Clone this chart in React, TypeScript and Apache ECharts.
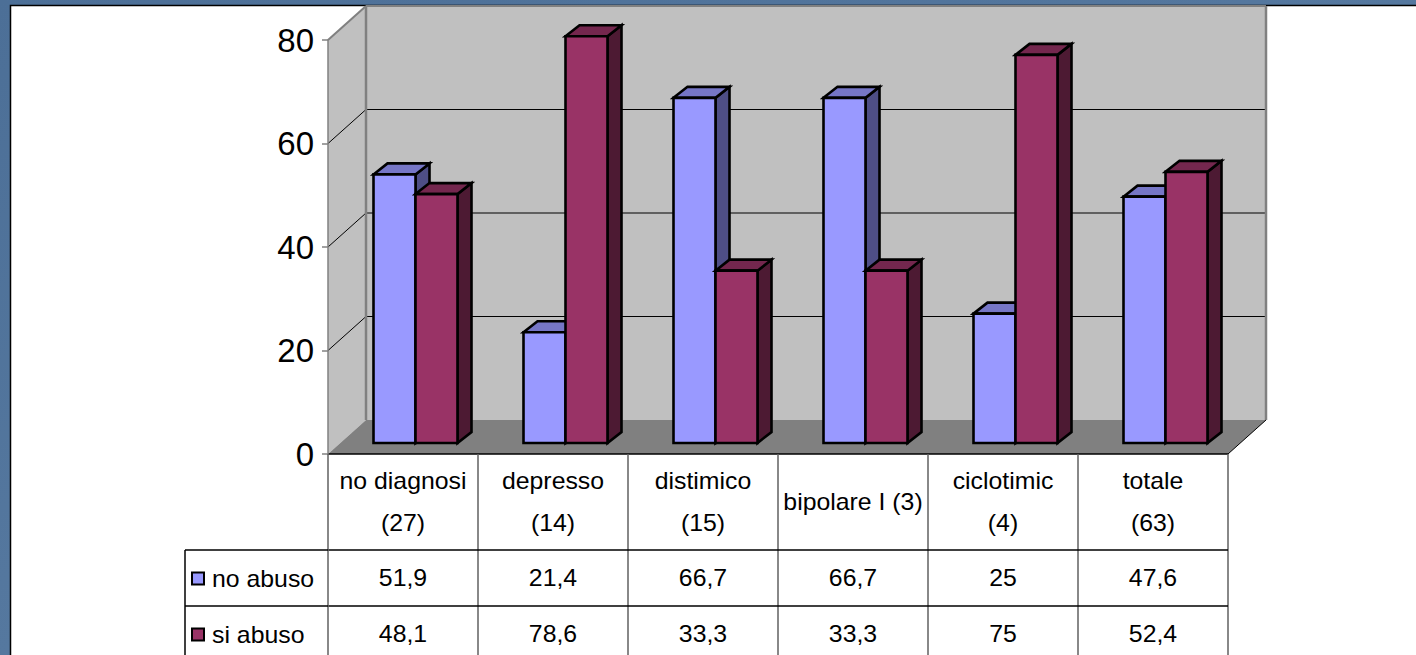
import React, { useEffect, useRef } from "react";
import * as echarts from "echarts";

// Categories (diagnosis, sample size) and the two percentage series
const categories = [
  "no diagnosi\n(27)",
  "depresso\n(14)",
  "distimico\n(15)",
  "bipolare I (3)",
  "ciclotimic\n(4)",
  "totale\n(63)",
];
const seriesNames = ["no abuso", "si abuso"];
const noAbuso = [51.9, 21.4, 66.7, 66.7, 25, 47.6];
const siAbuso = [48.1, 78.6, 33.3, 33.3, 75, 52.4];
const yTicks = [0, 20, 40, 60, 80];

// Styling / layout
const FONT = "'Liberation Sans', Arial, sans-serif";
const GRID = { left: 328, top: 40, width: 900, height: 414 };
const WALL_DX = 38;
const WALL_DY = -34;
const BAR_SHIFT_X = 12.5;
const BAR_SHIFT_Y = -11;
const BAR_DX = 14;
const BAR_DY = -11;
const BAR_FRACTION = 0.28;
const HEADER_H = 96;
const ROW_H = 56;
const LEGEND_W = 143;
const TEXT_SIZE = 23;
const TEXT_SCALE_X = 1.08;
const colors = [
  { front: "#9999FF", top: "#7676C6", side: "#4E4E86" },
  { front: "#993366", top: "#74274E", side: "#4D1A33" },
];

const fmt = (v: number) => String(v).replace(".", ",");

export default function App() {
  const ref = useRef<HTMLDivElement>(null);

  useEffect(() => {
    if (!ref.current) return;
    const chart = echarts.init(ref.current, undefined, { renderer: "svg" });

    const yMin = yTicks[0];
    const yMax = yTicks[yTicks.length - 1];
    const yStep = yTicks[1] - yTicks[0];

    const wallsRender = (params: any, api: any) => {
      const cs = params.coordSys;
      const x0 = cs.x;
      const x1 = cs.x + cs.width;
      const yAt = (v: number) => api.coord([0, v])[1];
      const yb = yAt(yMin);
      const yt = yAt(yMax);
      const children: any[] = [
        {
          type: "polygon",
          shape: { points: [[x0, yb], [x0, yt], [x0 + WALL_DX, yt + WALL_DY], [x0 + WALL_DX, yb + WALL_DY]] },
          style: { fill: "#C0C0C0" },
        },
        {
          type: "rect",
          shape: { x: x0 + WALL_DX, y: yt + WALL_DY, width: x1 - x0, height: yb - yt },
          style: { fill: "#C0C0C0" },
        },
        {
          type: "polygon",
          shape: { points: [[x0, yb], [x1, yb], [x1 + WALL_DX, yb + WALL_DY], [x0 + WALL_DX, yb + WALL_DY]] },
          style: { fill: "#808080" },
        },
      ];
      yTicks.slice(1).forEach((v) => {
        const y = yAt(v);
        const c = v === yMax ? "#808080" : "#000";
        children.push({
          type: "line",
          shape: { x1: x0 + WALL_DX, y1: y + WALL_DY, x2: x1 + WALL_DX, y2: y + WALL_DY },
          style: { stroke: c, lineWidth: v === yMax ? 2 : 1 },
        });
        children.push({
          type: "line",
          shape: { x1: x0, y1: y, x2: x0 + WALL_DX, y2: y + WALL_DY },
          style: { stroke: c, lineWidth: v === yMax ? 2 : 1 },
        });
      });
      children.push(
        {
          type: "line",
          shape: { x1: x0 + WALL_DX, y1: yt + WALL_DY, x2: x0 + WALL_DX, y2: yb + WALL_DY },
          style: { stroke: "#808080", lineWidth: 2.5 },
        },
        {
          type: "line",
          shape: { x1: x1 + WALL_DX, y1: yt + WALL_DY, x2: x1 + WALL_DX, y2: yb + WALL_DY },
          style: { stroke: "#808080", lineWidth: 2.5 },
        },
        {
          type: "line",
          shape: { x1: x1, y1: yb, x2: x1 + WALL_DX, y2: yb + WALL_DY },
          style: { stroke: "#000", lineWidth: 1 },
        },
        {
          type: "line",
          shape: { x1: x0, y1: yb, x2: x1, y2: yb },
          style: { stroke: "#000", lineWidth: 1.5 },
        }
      );
      return { type: "group", children };
    };

    const barRender = (si: number) => (params: any, api: any) => {
      const idx = api.value(0);
      const val = api.value(1);
      const [cx, yTop] = api.coord([idx, val]);
      const yBase = api.coord([idx, 0])[1];
      const bw = api.size([1, 0])[0] * BAR_FRACTION;
      const left = cx + (si === 0 ? -bw : 0) + BAR_SHIFT_X;
      const right = left + bw;
      const top = yTop + BAR_SHIFT_Y;
      const bot = yBase + BAR_SHIFT_Y;
      const c = colors[si];
      const stroke = { stroke: "#000", lineWidth: 2.6, lineJoin: "miter" };
      return {
        type: "group",
        children: [
          {
            type: "polygon",
            shape: { points: [[right, top], [right + BAR_DX, top + BAR_DY], [right + BAR_DX, bot + BAR_DY], [right, bot]] },
            style: { fill: c.side, ...stroke },
          },
          {
            type: "polygon",
            shape: { points: [[left, top], [left + BAR_DX, top + BAR_DY], [right + BAR_DX, top + BAR_DY], [right, top]] },
            style: { fill: c.top, ...stroke },
          },
          {
            type: "rect",
            shape: { x: left, y: top, width: bw, height: bot - top },
            style: { fill: c.front, ...stroke },
          },
        ],
      };
    };

    const tableRender = (params: any, api: any) => {
      const idx = api.value(0);
      const [cx, y0] = api.coord([idx, 0]);
      const w = api.size([1, 0])[0];
      const xl = cx - w / 2;
      const xr = cx + w / 2;
      const yEnd = y0 + HEADER_H + ROW_H * 2 + 20;
      const txt = (text: string, y: number) => ({
        type: "text",
        x: cx,
        y,
        scaleX: TEXT_SCALE_X,
        style: {
          text,
          fill: "#000",
          font: `${TEXT_SIZE}px ${FONT}`,
          align: "center",
          verticalAlign: "middle",
          lineHeight: 42,
        },
      });
      const children: any[] = [
        txt(categories[idx], y0 + HEADER_H / 2),
        txt(fmt(noAbuso[idx]), y0 + HEADER_H + ROW_H / 2),
        txt(fmt(siAbuso[idx]), y0 + HEADER_H + ROW_H * 1.5),
        {
          type: "line",
          shape: { x1: xr, y1: y0, x2: xr, y2: yEnd },
          style: { stroke: "#606060", lineWidth: 1.5 },
        },
        {
          type: "line",
          shape: { x1: xl, y1: y0 + HEADER_H, x2: xr, y2: y0 + HEADER_H },
          style: { stroke: "#000", lineWidth: 1.5 },
        },
        {
          type: "line",
          shape: { x1: xl, y1: y0 + HEADER_H + ROW_H, x2: xr, y2: y0 + HEADER_H + ROW_H },
          style: { stroke: "#000", lineWidth: 1.5 },
        },
      ];
      if (idx === 0) {
        children.push({
          type: "line",
          shape: { x1: xl, y1: y0, x2: xl, y2: yEnd },
          style: { stroke: "#606060", lineWidth: 1.5 },
        });
      }
      return { type: "group", children };
    };

    // Legend column of the data table (left of the first category)
    const tableTop = GRID.top + GRID.height;
    const legLeft = GRID.left - LEGEND_W;
    const legendGraphics: any[] = [
      {
        type: "line",
        z: 20,
        shape: { x1: legLeft, y1: tableTop + HEADER_H, x2: legLeft, y2: 700 },
        style: { stroke: "#000", lineWidth: 1.5 },
      },
      {
        type: "line",
        z: 20,
        shape: { x1: legLeft, y1: tableTop + HEADER_H, x2: GRID.left, y2: tableTop + HEADER_H },
        style: { stroke: "#000", lineWidth: 1.5 },
      },
      {
        type: "line",
        z: 20,
        shape: { x1: legLeft, y1: tableTop + HEADER_H + ROW_H, x2: GRID.left, y2: tableTop + HEADER_H + ROW_H },
        style: { stroke: "#000", lineWidth: 1.5 },
      },
    ];
    seriesNames.forEach((name, i) => {
      const cy = tableTop + HEADER_H + ROW_H * (i + 0.5);
      legendGraphics.push(
        {
          type: "rect",
          z: 20,
          shape: { x: legLeft + 7, y: cy - 5.5, width: 12, height: 12 },
          style: { fill: colors[i].front, stroke: "#000", lineWidth: 2 },
        },
        {
          type: "text",
          z: 20,
          x: legLeft + 27,
          y: cy + 1,
          scaleX: TEXT_SCALE_X,
          style: {
            text: name,
            fill: "#000",
            font: `${TEXT_SIZE}px ${FONT}`,
            align: "left",
            verticalAlign: "middle",
          },
        }
      );
    });

    chart.setOption({
      animation: false,
      graphic: [
        {
          type: "rect",
          z: -10,
          shape: { x: 0, y: 0, width: 1416, height: 655 },
          style: {
            fill: new echarts.graphic.LinearGradient(0, 0, 1, 1, [
              { offset: 0, color: "#4C6F97" },
              { offset: 0.5, color: "#55789F" },
              { offset: 1, color: "#4A6D95" },
            ]),
          },
        },
        {
          type: "rect",
          z: -9,
          shape: { x: 10.5, y: 5.5, width: 1420, height: 660 },
          style: { fill: "#FFFFFF", stroke: "#000", lineWidth: 1.5 },
        },
        ...legendGraphics,
      ],
      grid: { ...GRID, containLabel: false },
      xAxis: {
        type: "category",
        data: categories,
        boundaryGap: true,
        axisLine: { show: false },
        axisTick: { show: false },
        axisLabel: { show: false },
        splitLine: { show: false },
      },
      yAxis: {
        type: "value",
        min: yMin,
        max: yMax,
        interval: yStep,
        z: 5,
        axisLine: { show: true, lineStyle: { color: "#808080", width: 1.5 } },
        axisTick: { show: true, length: 6, lineStyle: { color: "#808080", width: 1.5 } },
        axisLabel: {
          color: "#000",
          fontSize: 33,
          fontFamily: FONT,
          margin: 14,
        },
        splitLine: { show: false },
      },
      series: [
        {
          type: "custom",
          name: "walls",
          z: 1,
          data: [[0, 0]],
          renderItem: wallsRender,
          silent: true,
        },
        {
          type: "custom",
          name: seriesNames[0],
          z: 3,
          data: noAbuso.map((v, i) => [i, v]),
          encode: { x: 0, y: 1 },
          renderItem: barRender(0),
        },
        {
          type: "custom",
          name: seriesNames[1],
          z: 4,
          data: siAbuso.map((v, i) => [i, v]),
          encode: { x: 0, y: 1 },
          renderItem: barRender(1),
        },
        {
          type: "custom",
          name: "table",
          z: 6,
          data: categories.map((_, i) => [i, 0]),
          encode: { x: 0, y: 1 },
          renderItem: tableRender,
          silent: true,
        },
      ],
    });

    return () => chart.dispose();
  }, []);

  return (
    <div
      ref={ref}
      style={{ position: "absolute", left: 0, top: 0, width: 1416, height: 655, overflow: "hidden" }}
    />
  );
}
